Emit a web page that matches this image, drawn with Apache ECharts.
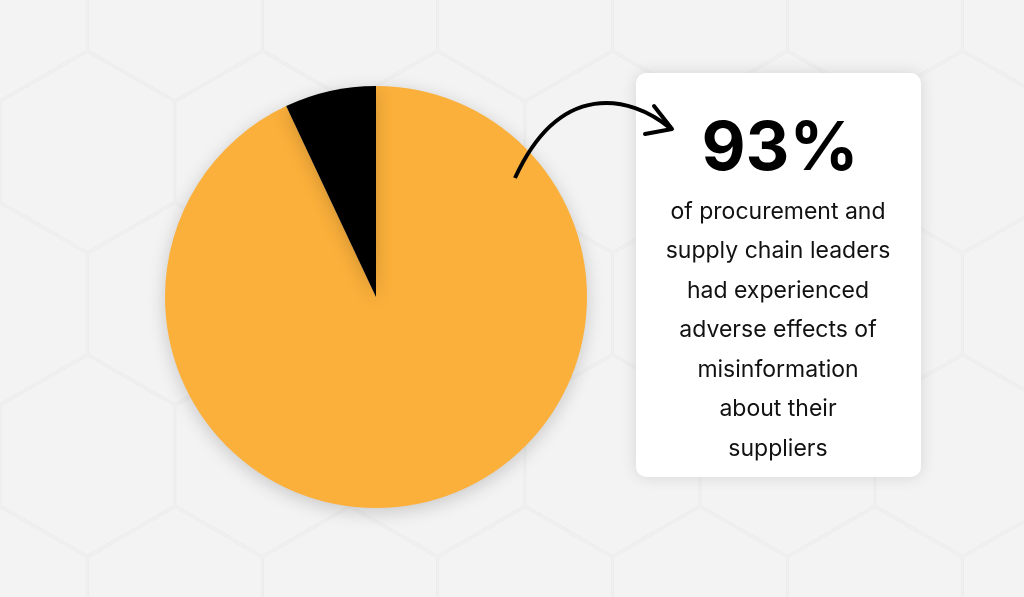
<!DOCTYPE html>
<html><head><meta charset="utf-8">
<script src="https://cdn.jsdelivr.net/npm/echarts@6/dist/echarts.min.js"></script>
<style>html,body{margin:0;padding:0;background:#f3f3f3}#c{width:1024px;height:597px}</style>
</head><body><div id="c"></div>
<script>
const categories = ['Experienced adverse effects', 'Did not'];
const values = [93, 7];
const headline = '93%';
const bodyLines = ['of procurement and','supply chain leaders','had experienced','adverse effects of','misinformation','about their','suppliers'];

const chart = echarts.init(document.getElementById('c'));
const hex = [];
const W = 175, H = 150;
for (let r = -1; r < 6; r++) {
  for (let c = -1; c < 8; c++) {
    const cx = c * W * 1.0 + (r % 2 ? W / 2 : 0), cy = r * H * 0.75 * 1.35;
    const pts = [];
    for (let k = 0; k < 6; k++) { const a = Math.PI / 180 * (60 * k - 90); pts.push([cx + 100 * Math.cos(a), cy + 100 * Math.sin(a)]); }
    hex.push({type:'polygon', shape:{points:pts}, style:{fill:'none', stroke:'#ececec', lineWidth:1.2}, silent:true, z:-10});
  }
}
const bodyGraphics = bodyLines.map((t, i) => ({type:'text', x:778, y:212 + i * 39.5, style:{text:t, font:'400 23px "Inter", sans-serif', fill:'#111', align:'center', verticalAlign:'middle'}, z:10}));
chart.setOption({
  backgroundColor:'#f3f3f3',
  animation:false,
  series:[{type:'pie', center:[376,297], radius:211, startAngle:90, label:{show:false}, labelLine:{show:false},
    itemStyle:{shadowBlur:18, shadowColor:'rgba(0,0,0,0.18)', shadowOffsetY:4},
    data: categories.map((n,i)=>({name:n, value:values[i], itemStyle:{color: i===0 ? '#FBB03B' : '#000'}}))}],
  graphic: hex.concat([
    {type:'rect', shape:{x:636,y:73,width:285,height:404,r:10}, style:{fill:'#fff', shadowBlur:16, shadowColor:'rgba(0,0,0,0.12)'}, z:5},
    {type:'text', x:780, y:150, style:{text:headline, font:'700 68px "Inter", sans-serif', fill:'#000', align:'center', verticalAlign:'middle'}, z:10},
    {type:'bezierCurve', shape:{x1:515,y1:178,cpx1:560,cpy1:80,cpx2:630,cpy2:95,x2:670,y2:128}, style:{stroke:'#000', lineWidth:4, fill:'none'}, z:10},
    {type:'polyline', shape:{points:[[654,106],[672,129],[645,134]]}, style:{stroke:'#000', lineWidth:4, fill:'none', lineJoin:'round', lineCap:'round'}, z:10}
  ]).concat(bodyGraphics)
});
</script></body></html>
